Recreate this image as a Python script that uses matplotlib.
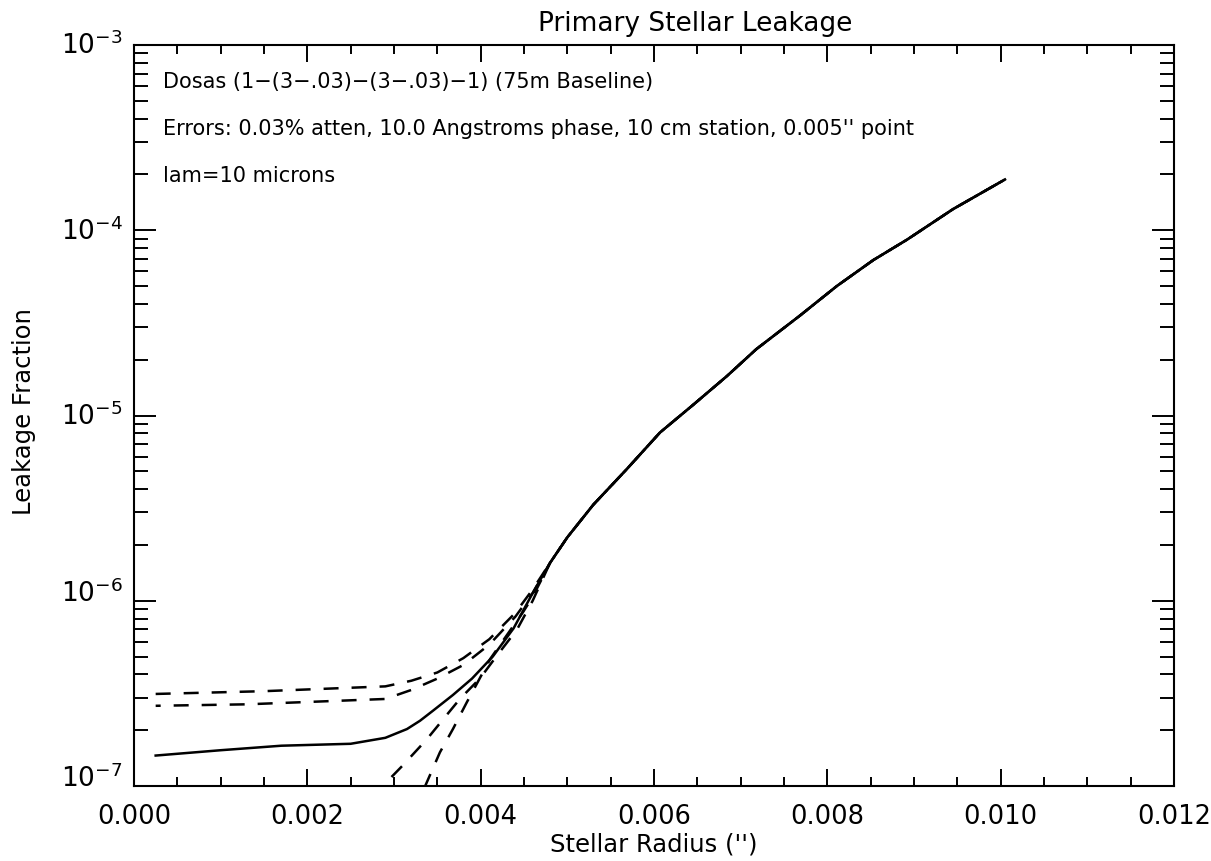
import matplotlib
matplotlib.use('Agg')
import matplotlib.pyplot as plt
import numpy as np

# data -----------------------------------------------------------------------------------------------------------------

# shared part of all five curves (they merge above ~0.0046)
tailX = [0.0048, 0.0050, 0.0053, 0.00568, 0.00607, 0.00645, 0.00684, 0.00718,
         0.00768, 0.00811, 0.00853, 0.00892, 0.00945, 0.01005]
tailY = [1.6e-6, 2.2e-6, 3.3e-6, 5.1e-6, 8.1e-6, 1.14e-5, 1.63e-5, 2.28e-5,
         3.45e-5, 5.0e-5, 6.9e-5, 8.9e-5, 1.30e-4, 1.88e-4]

# solid curve
solidX = [0.00025, 0.0010, 0.0017, 0.0025, 0.0029, 0.00315, 0.0033, 0.00345,
          0.00368, 0.0039, 0.00414, 0.00438, 0.0046]
solidY = [1.46e-7, 1.56e-7, 1.65e-7, 1.69e-7, 1.82e-7, 2.03e-7, 2.25e-7, 2.55e-7,
          3.1e-7, 3.8e-7, 5.0e-7, 7.1e-7, 1.1e-6]

# upper flat dashed curve
dashAX = [0.00025, 0.0015, 0.0029, 0.0032, 0.0035, 0.0038, 0.0041, 0.0044, 0.0046]
dashAY = [3.14e-7, 3.25e-7, 3.45e-7, 3.7e-7, 4.1e-7, 4.9e-7, 6.2e-7, 8.6e-7, 1.15e-6]

# lower flat dashed curve
dashBX = [0.00025, 0.0013, 0.0029, 0.0032, 0.0035, 0.0038, 0.0041, 0.0044, 0.0046]
dashBY = [2.71e-7, 2.76e-7, 2.95e-7, 3.3e-7, 3.8e-7, 4.5e-7, 5.8e-7, 8.2e-7, 1.1e-6]

# dashed curves rising from below the axis
dashCX = [0.0028, 0.00287, 0.0031, 0.00338, 0.00357, 0.00376, 0.00399, 0.00418, 0.00442, 0.0046]
dashCY = [9.0e-8, 1.0e-7, 1.29e-7, 1.79e-7, 2.3e-7, 2.95e-7, 3.8e-7, 5.0e-7, 7.0e-7, 1.0e-6]

dashDX = [0.0033, 0.00336, 0.00353, 0.00368, 0.00384, 0.00411, 0.0043, 0.00449, 0.0046]
dashDY = [9.0e-8, 1.0e-7, 1.52e-7, 2.03e-7, 2.83e-7, 4.85e-7, 6.5e-7, 8.7e-7, 1.05e-6]

xTicks = [0.000, 0.002, 0.004, 0.006, 0.008, 0.010, 0.012]
xTickLabels = ['0.000', '0.002', '0.004', '0.006', '0.008', '0.010', '0.012']
yTicks = [1e-7, 1e-6, 1e-5, 1e-4, 1e-3]
yTickLabels = [r'$\mathdefault{10^{-7}}$', r'$\mathdefault{10^{-6}}$', r'$\mathdefault{10^{-5}}$',
               r'$\mathdefault{10^{-4}}$', r'$\mathdefault{10^{-3}}$']

titleText = 'Primary Stellar Leakage'
xLabelText = 'Stellar Radius (\'\')'
yLabelText = 'Leakage Fraction'
notes = ['Dosas (1\u2212(3\u2212.03)\u2212(3\u2212.03)\u22121) (75m Baseline)',
         'Errors: 0.03% atten, 10.0 Angstroms phase, 10 cm station, 0.005\'\' point',
         'lam=10 microns']

# figure and panel -----------------------------------------------------------------------------------------------------

figureWidth = 12.11
figureHeight = 8.62
fig = plt.figure(figsize=(figureWidth, figureHeight), dpi=100)

panel = plt.axes([134 / 1211, 75 / 862, 1040 / 1211, 741 / 862])  # left, bottom, width, height
panel.set_yscale('log')
panel.set_xlim(0, 0.012)
panel.set_ylim(1e-7, 1e-3)

lw = 1.8
dashPattern = (6.0, 5.2)

# curves ---------------------------------------------------------------------------------------------------------------

panel.plot(solidX + tailX, solidY + tailY, color='black', linewidth=lw, solid_joinstyle='round')
for xs, ys, off in [(dashAX, dashAY, 0), (dashBX, dashBY, 4), (dashCX, dashCY, 2), (dashDX, dashDY, 8)]:
    line, = panel.plot(xs + tailX, ys + tailY, color='black', linewidth=lw)
    line.set_linestyle((off, dashPattern))
    line.set_dash_capstyle('butt')

# axes styling ---------------------------------------------------------------------------------------------------------

for sp in panel.spines.values():
    sp.set_linewidth(1.5)

panel.set_xticks(xTicks)
panel.set_xticklabels(xTickLabels)
panel.set_yticks(yTicks)
panel.set_yticklabels(yTickLabels)
panel.xaxis.set_minor_locator(matplotlib.ticker.MultipleLocator(0.0005))
panel.yaxis.set_minor_locator(matplotlib.ticker.LogLocator(base=10, subs=np.arange(2, 10)))
panel.yaxis.set_minor_formatter(matplotlib.ticker.NullFormatter())

panel.tick_params(axis='both', which='both', direction='in', top=True, right=True, width=1.4,
                  colors='black')
panel.tick_params(axis='x', which='major', length=12, pad=12, labelsize=18.5)
panel.tick_params(axis='x', which='minor', length=6.5)
panel.tick_params(axis='y', which='major', length=16, pad=8, labelsize=19)
panel.tick_params(axis='y', which='minor', length=10)

# IDL-like placement of the end labels on the y axis
yAligns = ['baseline', 'baseline', 'center', 'center', 'center']
for tick, va in zip(panel.yaxis.get_major_ticks(), yAligns):
    tick.label1.set_va(va)

fig.text(654 / 1211, 1 - 845 / 862, xLabelText, fontsize=17.5, ha='center', va='center')
fig.text(24 / 1211, 1 - 412 / 862, yLabelText, fontsize=17.5, ha='center', va='center', rotation=90)
panel.text(0.540, 1.02, titleText, transform=panel.transAxes, fontsize=19, ha='center', va='baseline')

for note, yPos in zip(notes, [0.943, 0.880, 0.8165]):
    panel.text(0.028, yPos, note, transform=panel.transAxes, fontsize=15, ha='left', va='baseline')

plt.savefig('out.png', dpi=100)
